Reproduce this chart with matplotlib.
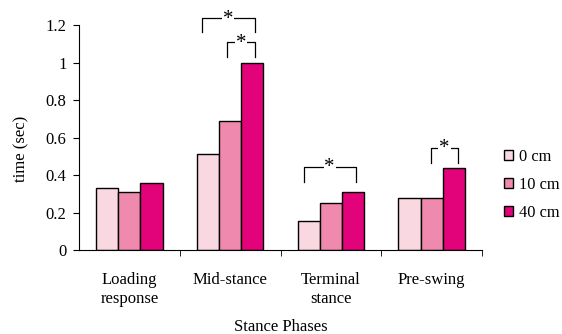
import matplotlib
matplotlib.use("Agg")
import matplotlib.pyplot as plt
from matplotlib import font_manager as fm
import numpy as np

# procura uma fonte tipo Times
nome_fonte = "DejaVu Serif"
for f in fm.findSystemFonts():
    if "LiberationSerif-Regular" in f:
        fm.fontManager.addfont(f)
        nome_fonte = fm.FontProperties(fname=f).get_name()
        break
plt.rcParams['font.family'] = [nome_fonte, 'DejaVu Serif']

# ----------------------------------------------
# dados
# ----------------------------------------------
fases = ["Loading\nresponse", "Mid-stance", "Terminal\nstance", "Pre-swing"]
alturas = ["0 cm", "10 cm", "40 cm"]
t_0cm = [0.33, 0.51, 0.155, 0.28]
t_10cm = [0.31, 0.69, 0.25, 0.28]
t_40cm = [0.36, 1.00, 0.31, 0.44]
cores = ["#F9D8E2", "#EF8AAE", "#E2037A"]

# colchetes de significância: (fase, x esq, x dir, y topo, y base)
colchetes = [
    (1, -0.28, 0.245, 1.236, 1.161),
    (1, -0.03, 0.245, 1.108, 1.028),
    (2, -0.27, 0.245, 0.444, 0.364),
    (3, -0.01, 0.265, 0.546, 0.462),
]

fig = plt.figure(figsize=(5.62, 3.34), dpi=100)
ax = fig.add_axes([0.1406, 0.2515, 0.7171, 0.6736])

x = np.arange(len(fases))
w = 0.22
for k, (vals, cor, lab) in enumerate(zip([t_0cm, t_10cm, t_40cm], cores, alturas)):
    ax.bar(x + (k - 1) * w, vals, w, color=cor, edgecolor="black",
           linewidth=1.0, label=lab)

for i, xe, xd, yt, yb in colchetes:
    ax.plot([i + xe, i + xe, i + xd, i + xd], [yb, yt, yt, yb],
            color="black", lw=0.9, clip_on=False)
    ax.text(i + (xe + xd) / 2, yt - 0.005, "*", ha="center", va="center",
            fontsize=15, clip_on=False,
            bbox=dict(facecolor="white", edgecolor="none", pad=0.6))

ax.set_xlim(-0.5, 3.5)
ax.set_ylim(0, 1.2)
ax.set_yticks([0, 0.2, 0.4, 0.6, 0.8, 1.0, 1.2])
ax.set_yticklabels(["0", "0.2", "0.4", "0.6", "0.8", "1", "1.2"], fontsize=12)
ax.set_xticks(x)
ax.set_xticklabels(fases, fontsize=12, linespacing=1.2)
ax.tick_params(axis="x", length=0, pad=16)
ax.set_xticks([0.5, 1.5, 2.5, 3.5], minor=True)
ax.tick_params(axis="x", which="minor", length=4, direction="out")
ax.tick_params(axis="y", length=4, direction="out", pad=5)
ax.spines["top"].set_visible(False)
ax.spines["right"].set_visible(False)
ax.set_ylabel("time (sec)", fontsize=12)
ax.yaxis.set_label_coords(-0.124, 0.45)
ax.set_xlabel("Stance Phases", fontsize=12)
ax.xaxis.set_label_coords(0.5, -0.305)

fig.legend(loc="upper left", bbox_to_anchor=(0.897, 0.555), frameon=False,
           fontsize=11.8, handlelength=0.55, handleheight=0.55, handletextpad=0.35,
           labelspacing=0.75, borderaxespad=0, borderpad=0)

fig.savefig("out.png", dpi=100)
